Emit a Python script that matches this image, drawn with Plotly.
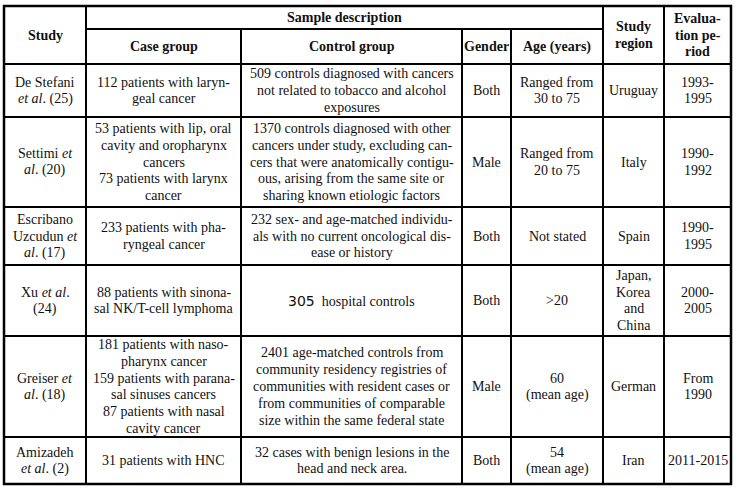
import plotly.graph_objects as go

# ---- table content ----
header_top = ["Study", "Sample description", "Study<br>region", "Evalua-<br>tion pe-<br>riod"]
header_sub = ["Case group", "Control group", "Gender", "Age (years)"]

study = [
    "De Stefani<br><i>et al</i>. (25)",
    "Settimi <i>et</i><br><i>al</i>. (20)",
    "Escribano<br>Uzcudun <i>et</i><br><i>al</i>. (17)",
    "Xu <i>et al</i>.<br>(24)",
    "Greiser <i>et</i><br><i>al</i>. (18)",
    "Amizadeh<br><i>et al</i>. (2)",
]
case_group = [
    "112 patients with laryn-<br>geal cancer",
    "53 patients with lip, oral<br>cavity and oropharynx<br>cancers<br>73 patients with larynx<br>cancer",
    "233 patients with pha-<br>ryngeal cancer",
    "88 patients with sinona-<br>sal NK/T-cell lymphoma",
    "181 patients with naso-<br>pharynx cancer<br>159 patients with parana-<br>sal sinuses cancers<br>87 patients with nasal<br>cavity cancer",
    "31 patients with HNC",
]
control_group = [
    "509 controls diagnosed with cancers<br>not related to tobacco and alcohol<br>exposures",
    "1370 controls diagnosed with other<br>cancers under study, excluding can-<br>cers that were anatomically contigu-<br>ous, arising from the same site or<br>sharing known etiologic factors",
    "232 sex- and age-matched individu-<br>als with no current oncological dis-<br>ease or history",
    "<span style=\"font-family:DejaVu Sans\">305</span>  hospital controls",
    "2401 age-matched controls from<br>community residency registries of<br>communities with resident cases or<br>from communities of comparable<br>size within the same federal state",
    "32 cases with benign lesions in the<br>head and neck area.",
]
gender = ["Both", "Male", "Both", "Both", "Male", "Both"]
age = ["Ranged from<br>30 to 75", "Ranged from<br>20 to 75", "Not stated", ">20",
       "60<br>(mean age)", "54<br>(mean age)"]
region = ["Uruguay", "Italy", "Spain", "Japan,<br>Korea<br>and<br>China", "German", "Iran"]
period = ["1993-<br>1995", "1990-<br>1992", "1990-<br>1995", "2000-<br>2005", "From<br>1990", "2011-2015"]

columns = [study, case_group, control_group, gender, age, region, period]

# ---- geometry (pixel space) ----
col_x = [4, 86, 241, 462, 511, 603, 664, 731]
top, mid_head, head_bottom = 6, 29, 64
row_y = [64, 117, 207, 265, 336, 437, 484]

FONT = "Liberation Serif, Times New Roman, serif"
FS = 14
LS = 16.8
COLOR = "#111111"

fig = go.Figure()
shapes = []
LW = 2

def hline(x0, x1, y, w=LW):
    shapes.append(dict(type="line", x0=x0, x1=x1, y0=y, y1=y, xref="x", yref="y",
                       line=dict(color="black", width=w)))

def vline(x, y0, y1, w=LW):
    shapes.append(dict(type="line", x0=x, x1=x, y0=y0, y1=y1, xref="x", yref="y",
                       line=dict(color="black", width=w)))

shapes.append(dict(type="rect", x0=col_x[0], x1=col_x[-1], y0=top, y1=row_y[-1],
                   xref="x", yref="y", line=dict(color="black", width=2.5)))
hline(col_x[1], col_x[5], mid_head)
for y in row_y[:-1]:
    hline(col_x[0], col_x[-1], y)
for i in [1, 5, 6]:
    vline(col_x[i], top, row_y[-1])
for i in [2, 3, 4]:
    vline(col_x[i], mid_head, row_y[-1])

annotations = []

def cell(text, x0, x1, y0, y1, bold=False):
    lines = text.split("<br>")
    n = len(lines)
    cx, cy = (x0 + x1) / 2, (y0 + y1) / 2
    for i, ln in enumerate(lines):
        t = f"<b>{ln}</b>" if bold else ln
        annotations.append(dict(x=cx, y=cy + (i - (n - 1) / 2) * LS, xref="x", yref="y",
                                text=t, showarrow=False, xanchor="center", yanchor="middle",
                                align="center", font=dict(family=FONT, size=FS, color=COLOR)))

cell(header_top[0], col_x[0], col_x[1], top, head_bottom, bold=True)
cell(header_top[1], col_x[1], col_x[5], top, mid_head, bold=True)
cell(header_top[2], col_x[5], col_x[6], top, head_bottom, bold=True)
cell(header_top[3], col_x[6], col_x[7], top, head_bottom, bold=True)
for j, h in enumerate(header_sub):
    cell(h, col_x[j + 1], col_x[j + 2], mid_head, head_bottom, bold=True)

for c, col in enumerate(columns):
    for r, txt in enumerate(col):
        cell(txt, col_x[c], col_x[c + 1], row_y[r], row_y[r + 1])

fig.update_layout(
    width=738, height=492,
    margin=dict(l=0, r=0, t=0, b=0),
    paper_bgcolor="white", plot_bgcolor="white",
    xaxis=dict(range=[0, 738], visible=False, fixedrange=True),
    yaxis=dict(range=[492, 0], visible=False, fixedrange=True),
    shapes=shapes, annotations=annotations, showlegend=False,
)

fig.write_html("out.html", config={"displayModeBar": False},
               post_script="document.body.style.margin='0';document.body.style.overflow='hidden';")
